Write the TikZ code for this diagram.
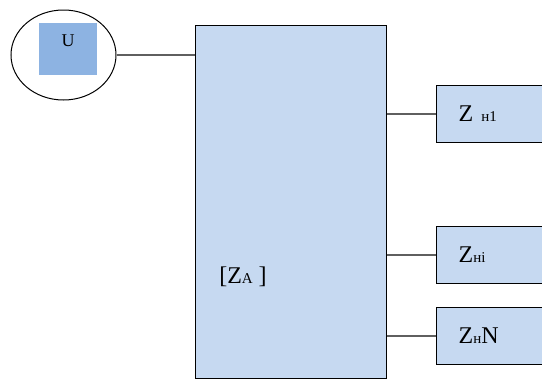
\documentclass[tikz,border=0pt]{standalone}
\usepackage{fontspec}
\setmainfont{Liberation Serif}
\usetikzlibrary{positioning, shapes.geometric}
\definecolor{zfill}{HTML}{C6D9F1}
\definecolor{srcblue}{HTML}{8DB3E2}
\definecolor{wiregray}{HTML}{5F5F5F}
\newcommand{\sm}[1]{{\fontsize{15}{16}\selectfont #1}}

\begin{document}
\begin{tikzpicture}[
    x=1pt, y=-1pt,
    font=\fontsize{24}{26}\selectfont,
    source/.style={draw, ellipse, line width=1pt, minimum width=105pt, minimum height=90pt},
    srcbox/.style={rectangle, fill=srcblue, minimum width=58pt, minimum height=52pt},
    block/.style={draw, rectangle, fill=zfill, line width=1pt, minimum width=191pt, minimum height=353pt},
    load/.style={draw, rectangle, fill=zfill, line width=1.4pt, anchor=west, minimum width=120pt, minimum height=57pt, inner xsep=22pt, text width=76pt, align=left},
    wire/.style={draw=wiregray, line width=2pt}
]
    \clip (0,0) rectangle (542,381);

    % source
    \node[source] (src) at (63.5,55) {};
    \node[srcbox, label={[anchor=north, yshift=-8pt, font=\fontsize{18}{20}\selectfont]north:U}] (usq) at (68,49) {};

    % network
    \node[block] (za) at (290.5,201.5) {};
    \node (zalabel) at (243,277) {[Z\sm{A} ]};

    % loads
    \node[load] (h1) at (436,114) {Z \sm{н1}};
    \node[load] (hi) at (436,255) {Z\sm{нi}};
    \node[load] (hn) at (436,336) {Z\sm{н}N};

    \draw[wire, line width=1.5pt] (src.east) -- (src.east -| za.west);
    \draw[wire] (za.east |- h1.west) -- (h1.west);
    \draw[wire] (za.east |- hi.west) -- (hi.west);
    \draw[wire] (za.east |- hn.west) -- (hn.west);
\end{tikzpicture}
\end{document}
